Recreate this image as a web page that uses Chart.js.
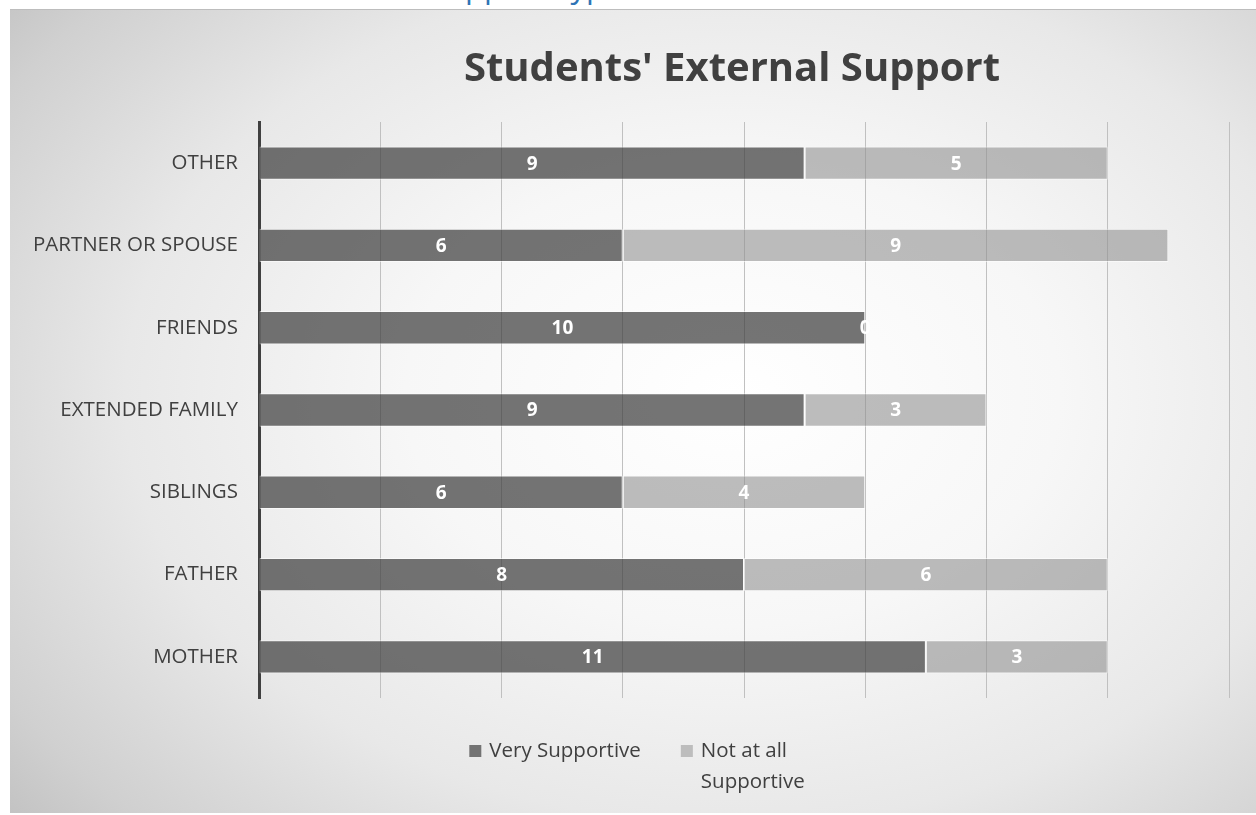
<!DOCTYPE html>
<html>
<head>
<meta charset="utf-8">
<script src="https://cdn.jsdelivr.net/npm/chart.js@4.4.1/dist/chart.umd.min.js"></script>
<style>
  html, body { margin: 0; padding: 0; background: #ffffff; width: 1256px; height: 815px; overflow: hidden; }
  #heading {
    position: absolute; left: 0; top: 0; width: 1256px; height: 9px; overflow: hidden;
  }
  #heading span {
    position: absolute; left: 429px; top: -35px; line-height: 40px;
    font: 31px "Open Sans", sans-serif; color: #2e74b5; white-space: nowrap;
  }
  #frame {
    position: absolute; left: 10px; top: 9px; width: 1246px; height: 804px;
    background: radial-gradient(ellipse 75% 82% at 58% 48%, #ffffff 0%, #f7f7f7 35%, #e8e8e8 65%, #d0d0d0 90%, #c3c3c3 100%);
    border-top: 1px solid #bdbdbd;
    box-sizing: border-box;
  }
  #chart { display: block; }
</style>
</head>
<body>
<div id="heading"><span>Support Types</span></div>
<div id="frame"><canvas id="chart" width="1246" height="803"></canvas></div>
<script>
// Categories, listed top to bottom
const categories = ['OTHER', 'PARTNER OR SPOUSE', 'FRIENDS', 'EXTENDED FAMILY', 'SIBLINGS', 'FATHER', 'MOTHER'];
// Number of students per category
const verySupportive = [9, 6, 10, 9, 6, 8, 11];
const notAtAllSupportive = [5, 9, 0, 3, 4, 6, 3];
const seriesNames = ['Very Supportive', ['Not at all', 'Supportive']];
const chartTitle = "Students' External Support";

const TEXT = '#404040';
const FONT = '"Open Sans", sans-serif';

// Centred white value labels on every bar segment
const valueLabels = {
  id: 'valueLabels',
  afterDatasetsDraw(chart) {
    const ctx = chart.ctx;
    ctx.save();
    ctx.font = 'bold 19px ' + FONT;
    ctx.fillStyle = '#ffffff';
    ctx.textAlign = 'center';
    ctx.textBaseline = 'middle';
    chart.data.datasets.forEach((ds, i) => {
      chart.getDatasetMeta(i).data.forEach((bar, j) => {
        const cx = (bar.x + bar.base) / 2;
        ctx.fillText(String(ds.data[j]), cx, bar.y + 1);
      });
    });
    ctx.restore();
  }
};

// Title above the plot area
const titleText = {
  id: 'titleText',
  afterDraw(chart) {
    const ctx = chart.ctx;
    const a = chart.chartArea;
    ctx.save();
    ctx.font = 'bold 40px ' + FONT;
    ctx.fillStyle = TEXT;
    ctx.textAlign = 'center';
    ctx.textBaseline = 'middle';
    ctx.fillText(chartTitle, (a.left + a.right) / 2 - 12, 60);
    ctx.restore();
  }
};

// Legend below the plot, second entry wraps onto two lines
const wrappedLegend = {
  id: 'wrappedLegend',
  afterDraw(chart) {
    const ctx = chart.ctx;
    ctx.save();
    ctx.font = '20.5px ' + FONT;
    ctx.textBaseline = 'middle';
    const box = 12, gap = 8, itemGap = 40, lineH = 31;
    const widths = seriesNames.map(n => {
      const lines = Array.isArray(n) ? n : [n];
      return box + gap + Math.max(...lines.map(l => ctx.measureText(l).width));
    });
    const total = widths.reduce((s, w) => s + w, 0) + itemGap * (widths.length - 1);
    let x = chart.width / 2 + 4 - total / 2;
    const y = 741;
    chart.data.datasets.forEach((ds, i) => {
      ctx.fillStyle = ds.legendColor;
      ctx.fillRect(x, y - box / 2, box, box);
      ctx.fillStyle = TEXT;
      ctx.textAlign = 'left';
      const lines = Array.isArray(seriesNames[i]) ? seriesNames[i] : [seriesNames[i]];
      lines.forEach((l, k) => ctx.fillText(l, x + box + gap, y + k * lineH));
      x += widths[i] + itemGap;
    });
    ctx.restore();
  }
};

new Chart(document.getElementById('chart'), {
  type: 'bar',
  data: {
    labels: categories,
    datasets: [
      {
        label: 'Very Supportive',
        data: verySupportive,
        backgroundColor: 'rgba(64,64,64,0.73)',
        legendColor: '#737373',
        borderColor: 'rgba(255,255,255,0.55)',
        borderWidth: 1,
        borderSkipped: false
      },
      {
        label: 'Not at all Supportive',
        data: notAtAllSupportive,
        backgroundColor: 'rgba(145,145,145,0.6)',
        legendColor: '#bdbdbd',
        borderColor: 'rgba(255,255,255,0.55)',
        borderWidth: 1,
        borderSkipped: false
      }
    ]
  },
  options: {
    indexAxis: 'y',
    responsive: false,
    animation: false,
    devicePixelRatio: 1,
    layout: { padding: { top: 112, right: 27, bottom: 115, left: 0 } },
    datasets: { bar: { categoryPercentage: 1, barPercentage: 0.405 } },
    scales: {
      x: {
        stacked: true,
        min: 0,
        max: 16,
        ticks: { display: false, stepSize: 2 },
        grid: { color: '#c0c0c0', lineWidth: 1, drawTicks: false },
        border: { display: false }
      },
      y: {
        stacked: true,
        afterFit(scale) { scale.width = 249; },
        ticks: { color: TEXT, font: { family: FONT, size: 20.5 }, padding: 21 },
        grid: { display: false, drawTicks: false },
        border: { color: '#404040', width: 3 }
      }
    },
    plugins: {
      legend: { display: false },
      title: { display: false },
      tooltip: { enabled: false }
    }
  },
  plugins: [valueLabels, titleText, wrappedLegend]
});
</script>
</body>
</html>
